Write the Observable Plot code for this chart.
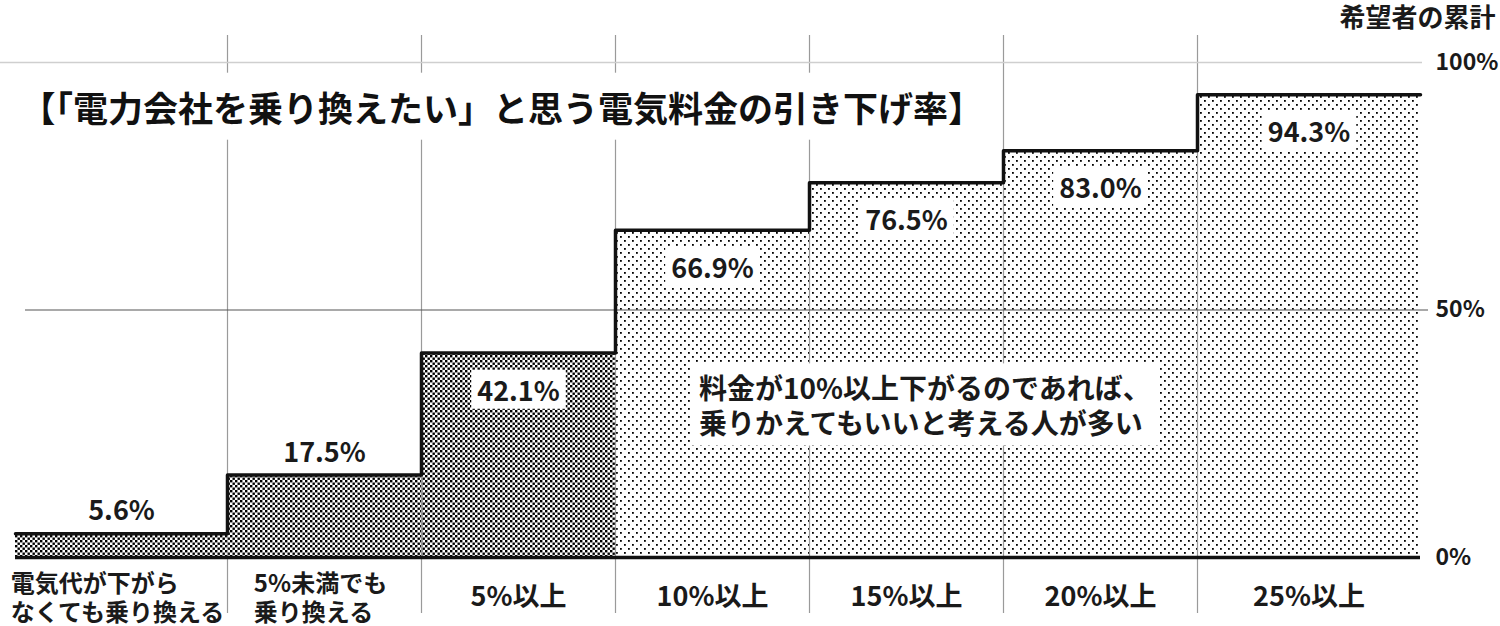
<!DOCTYPE html>
<html><head><meta charset="utf-8">
<script src="https://cdn.jsdelivr.net/npm/d3@7"></script>
<script src="https://cdn.jsdelivr.net/npm/@observablehq/plot@0.6"></script>
<style>
body{margin:0;background:#fff;}
svg{font-family:"Noto Sans CJK JP","Noto Sans",sans-serif;}
</style>
</head><body><div id="chart"></div>
<script>
const categories = ["電気代が下がら\nなくても乗り換える", "5%未満でも\n乗り換える", "5%以上", "10%以上", "15%以上", "20%以上", "25%以上"];
const values = [5.6, 17.5, 42.1, 66.9, 76.5, 83.0, 94.3];
const patterns = ["dense", "dense", "dense", "sparse", "sparse", "sparse", "sparse"];
const yTicks = [0, 50, 100];
const axisTitle = "希望者の累計";
const title = "【「電力会社を乗り換えたい」と思う電気料金の引き下げ率】";
const note = "料金が10%以上下がるのであれば、\n乗りかえてもいいと考える人が多い";

const bars = categories.map((c, i) => ({i, category: c, value: values[i], pattern: patterns[i]}));
const steps = bars.map(d => ({x: d.i, y: d.value})).concat([{x: bars.length, y: values[values.length - 1]}]);
const n = categories.length;
const W = 600;

const chart = Plot.plot({
  width: 1500, height: 626,
  marginTop: 35, marginBottom: 13, marginLeft: 0, marginRight: 78,
  x: {type: "linear", domain: [0, 1, n - 1, n], range: [15, 227, 1197, 1420], axis: null},
  y: {domain: [0, 100], range: [557, 62], axis: null},
  style: {fontFamily: '"Noto Sans CJK JP", sans-serif', background: "white", color: "#1a1a1a"},
  marks: [
    Plot.rect(bars.filter(d => d.pattern === "dense"), {x1: "i", x2: d => d.i + 1, y1: 0, y2: "value", insetTop: 4, fill: "url(#dense)"}),
    Plot.rect(bars.filter(d => d.pattern === "sparse"), {x1: "i", x2: d => d.i + 1, y1: 0, y2: "value", insetTop: 4, fill: "url(#sparse)"}),
    Plot.ruleX(d3.range(1, n), {stroke: "#9a9a9a", strokeWidth: 1.2}),
    Plot.ruleY([100], {stroke: "#cfcfcf", strokeWidth: 1.5}),
    Plot.ruleY([50], {stroke: "#555", strokeWidth: 1.2, insetLeft: 25, insetRight: -6}),
    Plot.ruleY([0], {x1: 0, x2: n, stroke: "#111", strokeWidth: 3.5}),
    Plot.line(steps, {x: "x", y: "y", curve: "step-after", stroke: "#111", strokeWidth: 3.5, dy: 4}),
    Plot.text(bars.filter(d => d.value < 30), {x: d => d.i + 0.5, y: "value", text: d => d.value.toFixed(1) + "%", dy: -18, fontSize: 27, fontWeight: W, fill: "#1a1a1a", ariaDescription: "box 6 0"}),
    Plot.text(bars.filter(d => d.value >= 30), {x: d => d.i + 0.5, y: "value", text: d => d.value.toFixed(1) + "%", dy: 43, fontSize: 27, fontWeight: W, fill: "#1a1a1a", ariaDescription: "box 6 0"}),
    Plot.text(bars.filter(d => d.category.includes("\n")), {x: d => d.i + 0.5, text: "category", frameAnchor: "bottom", lineAnchor: "middle", dy: -16, fontSize: 24, lineHeight: 1.2, fontWeight: W, fill: "#1a1a1a", ariaDescription: "xlabels"}),
    Plot.text(bars.filter(d => !d.category.includes("\n")), {x: d => d.i + 0.5, text: "category", frameAnchor: "bottom", lineAnchor: "middle", dy: -16, fontSize: 27, fontWeight: W, fill: "#1a1a1a"}),
    Plot.text(yTicks, {y: d => d, text: d => d + "%", frameAnchor: "right", textAnchor: "start", dx: 13, fontSize: 23, fontWeight: W, fill: "#1a1a1a"}),
    Plot.text([axisTitle], {frameAnchor: "top-right", textAnchor: "end", lineAnchor: "middle", dx: 73, dy: -17, fontSize: 26, fontWeight: W, fill: "#1a1a1a"}),
    Plot.text([title], {frameAnchor: "top-left", textAnchor: "start", lineAnchor: "middle", dx: 20, dy: 75, fontSize: 35, fontWeight: "bold", fill: "#111", ariaDescription: "box 8 8"}),
    Plot.text([note], {x: 3.43, y: 30.7, textAnchor: "start", lineAnchor: "middle", fontSize: 28, lineHeight: 1.22, fontWeight: W, fill: "#1a1a1a", ariaDescription: "box 8 4"})
  ]
});

document.getElementById("chart").append(chart);
const svg = d3.select(chart);
const defs = svg.insert("defs", ":first-child");
const pd = defs.append("pattern").attr("id", "dense").attr("patternUnits", "userSpaceOnUse").attr("width", 5).attr("height", 5);
pd.append("rect").attr("width", 5).attr("height", 5).attr("fill", "#fff");
pd.append("rect").attr("x", 0).attr("y", 0).attr("width", 2.4).attr("height", 2.4).attr("fill", "#000");
pd.append("rect").attr("x", 2.5).attr("y", 2.5).attr("width", 2.4).attr("height", 2.4).attr("fill", "#000");
const ps = defs.append("pattern").attr("id", "sparse").attr("patternUnits", "userSpaceOnUse").attr("width", 8).attr("height", 8);
ps.append("rect").attr("width", 8).attr("height", 8).attr("fill", "#fff");
ps.append("rect").attr("x", 0).attr("y", 0).attr("width", 1.8).attr("height", 1.8).attr("fill", "#000");
ps.append("rect").attr("x", 4).attr("y", 4).attr("width", 1.8).attr("height", 1.8).attr("fill", "#000");

// left-align multi-line category labels as a centered block
svg.selectAll('g[aria-description="xlabels"] text').each(function() {
  const w = this.getBBox().width;
  this.setAttribute("text-anchor", "start");
  d3.select(this).selectAll("tspan").attr("x", -w / 2 - 4);
});

// white boxes behind labelled texts
svg.selectAll('g[aria-description^="box"]').each(function() {
  const parts = this.getAttribute("aria-description").split(" ");
  const px = +parts[1], py = +parts[2];
  d3.select(this).selectAll("text").each(function() {
    const bb = this.getBBox();
    const r = document.createElementNS("http://www.w3.org/2000/svg", "rect");
    r.setAttribute("x", bb.x - px);
    r.setAttribute("y", bb.y - py);
    r.setAttribute("width", bb.width + 2 * px);
    r.setAttribute("height", bb.height + 2 * py);
    r.setAttribute("fill", "#fff");
    r.setAttribute("stroke", "none");
    const t = this.getAttribute("transform");
    if (t) r.setAttribute("transform", t);
    this.parentNode.insertBefore(r, this);
  });
});
</script>
</body></html>
